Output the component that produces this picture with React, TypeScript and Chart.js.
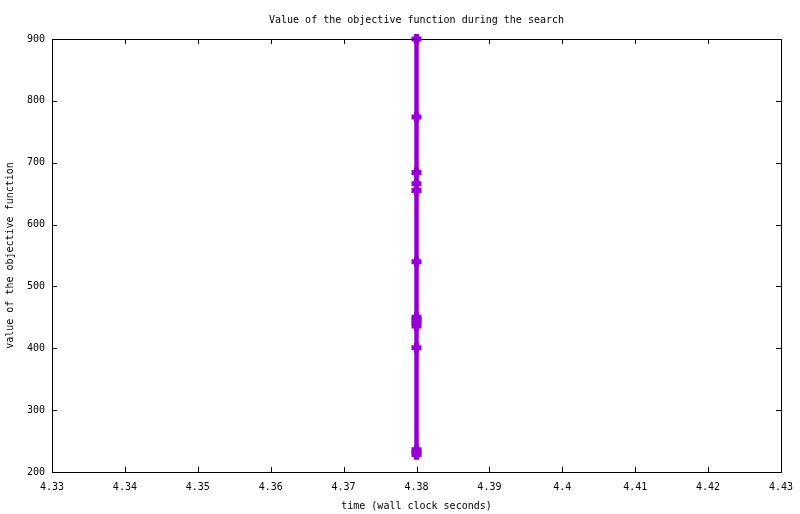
import { Chart, registerables } from 'chart.js';
import { useEffect, useRef } from 'react';

Chart.register(...registerables);

// every sample was taken at the same wall-clock time
const times = [4.38, 4.38, 4.38, 4.38, 4.38, 4.38, 4.38, 4.38, 4.38, 4.38, 4.38, 4.38, 4.38, 4.38];
const values = [900, 774, 684, 666, 655, 540, 450, 446, 441, 436, 401, 236, 232, 228];

const xTicks = [4.33, 4.34, 4.35, 4.36, 4.37, 4.38, 4.39, 4.4, 4.41, 4.42, 4.43];
const yTicks = [200, 300, 400, 500, 600, 700, 800, 900];

const FONT = '"DejaVu Sans Mono", monospace';
const PURPLE = '#9400d3';

// gnuplot style frame: full box with inward ticks on all four sides
const framePlugin = {
    id: 'frame',
    afterDraw(chart: Chart) {
        const { ctx, chartArea } = chart;
        const { left, right, top, bottom } = chartArea;
        const x = chart.scales.x;
        const y = chart.scales.y;
        const len = 5;
        ctx.save();
        ctx.strokeStyle = '#000';
        ctx.lineWidth = 1;
        ctx.beginPath();
        xTicks.forEach(t => {
            const px = Math.round(x.getPixelForValue(t)) + 0.5;
            ctx.moveTo(px, bottom);
            ctx.lineTo(px, bottom - len);
            ctx.moveTo(px, top);
            ctx.lineTo(px, top + len);
        });
        yTicks.forEach(t => {
            const py = Math.round(y.getPixelForValue(t)) + 0.5;
            ctx.moveTo(left, py);
            ctx.lineTo(left + len, py);
            ctx.moveTo(right, py);
            ctx.lineTo(right - len, py);
        });
        ctx.stroke();
        ctx.strokeRect(Math.round(left) + 0.5, Math.round(top) + 0.5, Math.round(right - left), Math.round(bottom - top));
        ctx.restore();
    },
};

export default function App() {
    const chartRef = useRef<HTMLCanvasElement>(null);
    const chartInstance = useRef<Chart | null>(null);

    useEffect(() => {
        document.body.style.margin = '0';
        if (chartRef.current) {
            if (chartInstance.current) {
                chartInstance.current.destroy();
            }
            const ctx = chartRef.current.getContext('2d');
            if (ctx) {
                chartInstance.current = new Chart(ctx, {
                    type: 'scatter',
                    data: {
                        datasets: [{
                            data: times.map((t, i) => ({ x: t, y: values[i] })),
                            showLine: true,
                            borderColor: PURPLE,
                            backgroundColor: PURPLE,
                            borderWidth: 4.5,
                            pointStyle: 'cross',
                            pointRadius: 5,
                            pointBorderWidth: 5,
                            pointBorderColor: PURPLE,
                            clip: false,
                        }],
                    },
                    options: {
                        animation: false,
                        responsive: false,
                        devicePixelRatio: 1,
                        layout: {
                            padding: { left: 0, right: 19, top: 0, bottom: 0 },
                        },
                        plugins: {
                            legend: { display: false },
                            tooltip: { enabled: false },
                            title: {
                                display: true,
                                fullSize: false,
                                text: 'Value of the objective function during the search',
                                color: '#000',
                                font: { family: FONT, size: 10, weight: 'normal' },
                                padding: { top: 14, bottom: 13 },
                            },
                        },
                        scales: {
                            x: {
                                type: 'linear',
                                min: 4.33,
                                max: 4.43,
                                afterBuildTicks: (scale: any) => {
                                    scale.ticks = xTicks.map(v => ({ value: v }));
                                },
                                afterFit: (scale: any) => {
                                    scale.height = 42;
                                    scale.paddingLeft = 0;
                                    scale.paddingRight = 0;
                                },
                                grid: { display: false, drawTicks: false },
                                border: { display: false },
                                ticks: {
                                    color: '#000',
                                    padding: 9,
                                    autoSkip: false,
                                    maxRotation: 0,
                                    font: { family: FONT, size: 10 },
                                    callback: (v: any) => String(parseFloat(Number(v).toFixed(2))),
                                },
                                title: {
                                    display: true,
                                    text: 'time (wall clock seconds)',
                                    color: '#000',
                                    font: { family: FONT, size: 10 },
                                    padding: { top: 0, bottom: 2 },
                                },
                            },
                            y: {
                                type: 'linear',
                                min: 200,
                                max: 900,
                                afterBuildTicks: (scale: any) => {
                                    scale.ticks = yTicks.map(v => ({ value: v }));
                                },
                                afterFit: (scale: any) => {
                                    scale.width = 52;
                                },
                                grid: { display: false, drawTicks: false },
                                border: { display: false },
                                ticks: {
                                    color: '#000',
                                    padding: 7,
                                    font: { family: FONT, size: 10 },
                                },
                                title: {
                                    display: true,
                                    text: 'value of the objective function',
                                    color: '#000',
                                    font: { family: FONT, size: 10 },
                                    padding: { top: 4, bottom: 0 },
                                },
                            },
                        },
                    },
                    plugins: [framePlugin],
                });
            }
        }
        return () => {
            if (chartInstance.current) {
                chartInstance.current.destroy();
                chartInstance.current = null;
            }
        };
    }, []);

    return (
        <div style={{ position: 'absolute', left: 0, top: 0, width: 800, height: 514, background: '#fff' }}>
            <canvas ref={chartRef} width={800} height={514}></canvas>
        </div>
    );
}
